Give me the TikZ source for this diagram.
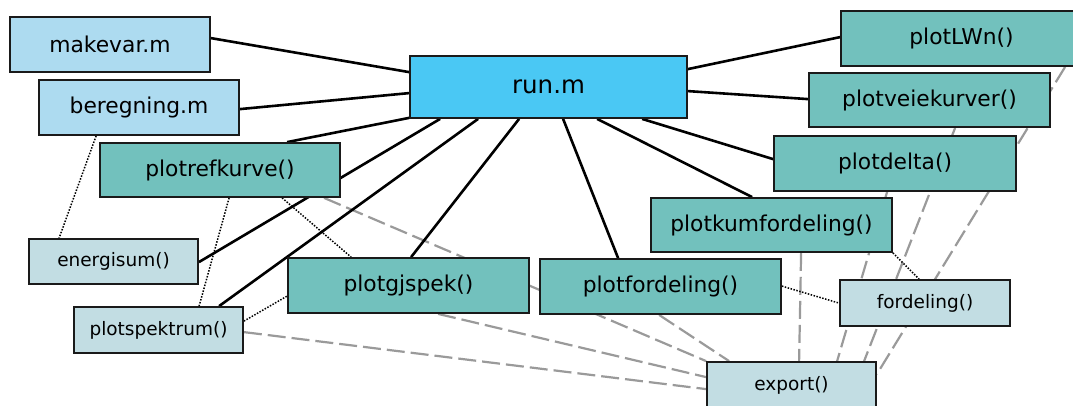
\documentclass[tikz,border=0pt]{standalone}
\usepackage{fontspec}
\setmainfont{DejaVu Sans}
\usetikzlibrary{calc,backgrounds}

\definecolor{scriptfill}{HTML}{ADDBF0}
\definecolor{runfill}{HTML}{4AC8F4}
\definecolor{plotfill}{HTML}{72C1BD}
\definecolor{helperfill}{HTML}{C2DDE3}
\definecolor{edgegray}{HTML}{9A9A9A}
\definecolor{boxline}{HTML}{1A1A1A}

\tikzset{
  box/.style={draw=boxline, line width=1.8pt, rectangle, inner sep=0pt, anchor=center},
  scriptbox/.style={box, fill=scriptfill, minimum width=200pt, minimum height=55pt,
    font=\fontsize{21.8}{26}\selectfont},
  runbox/.style={box, fill=runfill, minimum width=277pt, minimum height=62pt,
    font=\fontsize{24.5}{29}\selectfont},
  plotbox/.style={box, fill=plotfill, minimum width=241pt, minimum height=55pt,
    font=\fontsize{21.8}{26}\selectfont},
  helperbox/.style={box, fill=helperfill, minimum width=169pt, minimum height=46pt,
    font=\fontsize{18.5}{22}\selectfont},
  calls/.style={draw=black, line width=2.6pt},
  uses/.style={draw=black, line width=1.5pt, dash pattern=on 1.5pt off 1.5pt},
  exports/.style={draw=edgegray, line width=2.2pt, dash pattern=on 18pt off 6pt},
}

\begin{document}
\begin{tikzpicture}[x=1pt, y=-1pt]
\useasboundingbox (0,0) rectangle (1073,405);
\clip (0,0) rectangle (1073,405);

% script files
\node[scriptbox] (makevar)   at (110,44.5)   {makevar.m};
\node[scriptbox] (beregning) at (139,107.5)  {beregning.m};
\node[runbox]    (run)       at (548.5,87)   {run.m};

% plotting functions
\node[plotbox] (refk)   at (220,170)     [minimum width=240pt, minimum height=54pt] {plotrefkurve()};
\node[plotbox] (gjspek) at (408.5,285.5) {plotgjspek()};
\node[plotbox] (pford)  at (660.5,286.5) {plotfordeling()};
\node[plotbox] (kumf)   at (771.5,225)   [minimum height=54pt] {plotkumfordeling()};
\node[plotbox] (delta)  at (895,163.5)   [minimum width=242pt] {plotdelta()};
\node[plotbox] (veie)   at (929.5,100)   [minimum height=54pt] {plotveiekurver()};
\node[plotbox] (lwn)    at (961.5,38.5)  {plotLWn()};

% helper functions
\node[helperbox] (esum)   at (113.5,261.5) [minimum height=45pt] {energisum()};
\node[helperbox] (pspek)  at (158.5,330)   {plotspektrum()};
\node[helperbox] (ford)   at (925,303)     [minimum width=170pt] {fordeling()};
\node[helperbox] (export) at (791.5,385)   {export()};

\begin{scope}[on background layer]
  % export links
  \draw[exports] ($(pspek.north east)+(0,26)$)   -- ($(export.north west)+(0,28)$);
  \draw[exports] ($(gjspek.south west)+(151,0)$) -- ($(export.north west)+(0,16)$);
  \draw[exports] ($(refk.south west)+(225,0)$)   -- (export.north west);
  \draw[exports] ($(pford.south west)+(120,0)$)  -- ($(export.north west)+(23,0)$);
  \draw[exports] ($(kumf.south west)+(151,0)$)   -- ($(export.north west)+(93,0)$);
  \draw[exports] ($(delta.south west)+(114,0)$)  -- ($(export.north west)+(131,0)$);
  \draw[exports] ($(veie.south west)+(147,0)$)   -- ($(export.north west)+(158,0)$);
  \draw[exports] ($(lwn.south west)+(225,0)$)    -- ($(export.north east)+(0,13)$);

  % helper calls
  \draw[uses] ($(beregning.south west)+(58,0)$) -- ($(esum.north west)+(31,0)$);
  \draw[uses] ($(refk.south west)+(130,0)$)     -- ($(pspek.north west)+(126,0)$);
  \draw[uses] ($(refk.south west)+(183,0)$)     -- ($(gjspek.north west)+(64,0)$);
  \draw[uses] ($(pspek.north east)+(0,15)$)     -- ($(gjspek.north west)+(0,39)$);
  \draw[uses] ($(pford.north east)+(0,28)$)     -- ($(ford.north west)+(0,24)$);
  \draw[uses] (kumf.south east)                 -- ($(ford.north west)+(80,0)$);

  % calls from run.m
  \draw[calls] ($(run.north west)+(0,17)$)    -- ($(makevar.north east)+(0,22)$);
  \draw[calls] ($(run.north west)+(0,38)$)    -- ($(beregning.north east)+(0,30)$);
  \draw[calls] ($(run.south west)+(0,-1)$)    -- ($(refk.north west)+(188,0)$);
  \draw[calls] ($(run.south west)+(31,0)$)    -- ($(esum.north east)+(0,24)$);
  \draw[calls] ($(run.south west)+(69,0)$)    -- ($(pspek.north west)+(146,0)$);
  \draw[calls] ($(run.south west)+(110,0)$)   -- ($(gjspek.north west)+(124,0)$);
  \draw[calls] ($(run.south west)+(154,0)$)   -- ($(pford.north west)+(79,0)$);
  \draw[calls] ($(run.south west)+(188,0)$)   -- ($(kumf.north west)+(102,0)$);
  \draw[calls] ($(run.south west)+(233,0)$)   -- ($(delta.north west)+(0,24)$);
  \draw[calls] ($(run.north east)+(0,36)$)    -- ($(veie.north west)+(0,27)$);
  \draw[calls] ($(run.north east)+(0,14)$)    -- ($(lwn.north west)+(0,27)$);
\end{scope}
\end{tikzpicture}
\end{document}
